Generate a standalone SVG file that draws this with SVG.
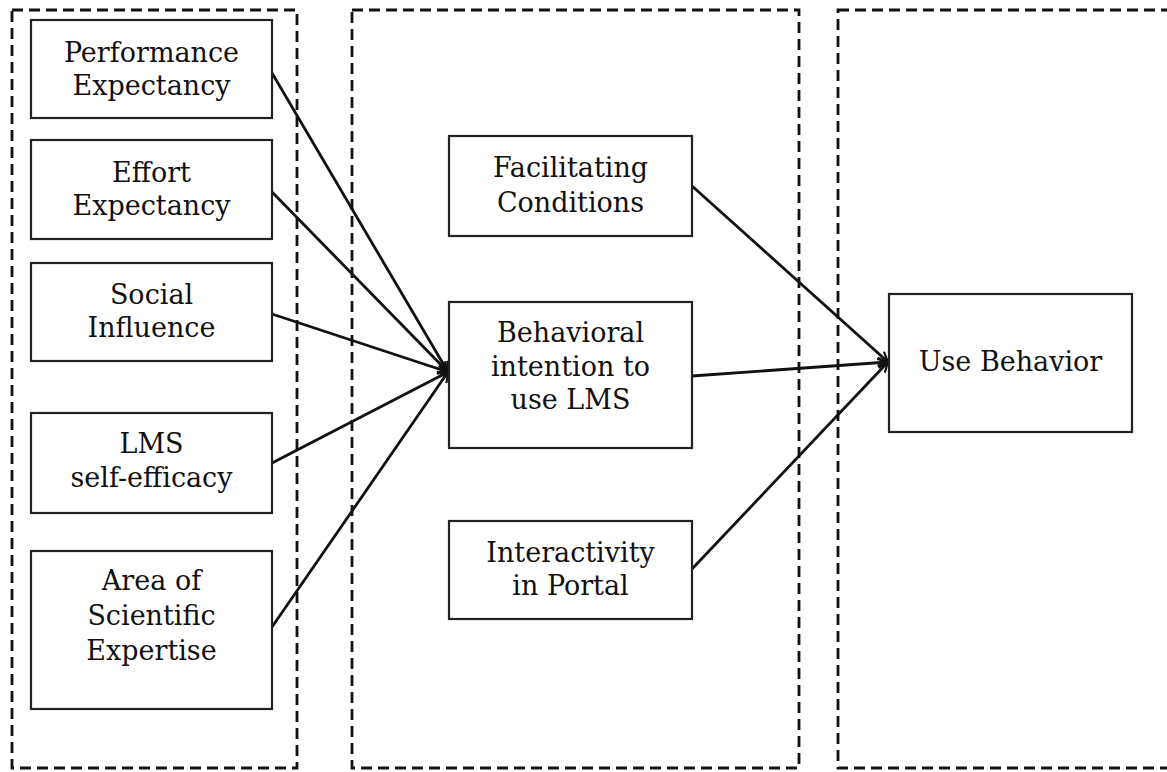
<svg xmlns="http://www.w3.org/2000/svg" width="1167" height="772" viewBox="0 0 1167 772">
<style>
.panel{fill:none;stroke:#111;stroke-width:2.8;stroke-dasharray:11 6}
.box{fill:#fff;stroke:#222;stroke-width:2.2}
.lbl{font-family:"DejaVu Serif","Liberation Serif",serif;font-size:27px;fill:#111;text-anchor:middle}
.edge{fill:none;stroke:#111;stroke-width:2.8}
</style>
<defs>
<marker id="arr" viewBox="0 0 12 12" refX="11" refY="6" markerWidth="12" markerHeight="12" markerUnits="userSpaceOnUse" orient="auto">
<path d="M1,1 L11,6 L1,11" fill="none" stroke="#111" stroke-width="2.2"/>
</marker>
</defs>
<rect width="1167" height="772" fill="#fff"/>
<g id="panels">
<rect class="panel" x="12" y="10" width="285" height="758"/>
<rect class="panel" x="352" y="10" width="447" height="758"/>
<rect class="panel" x="838" y="10" width="340" height="758"/>
</g>
<g id="connectors">
<line class="edge" x1="272" y1="73" x2="448" y2="372" marker-end="url(#arr)"/>
<line class="edge" x1="272" y1="192" x2="448" y2="372" marker-end="url(#arr)"/>
<line class="edge" x1="272" y1="314" x2="448" y2="372" marker-end="url(#arr)"/>
<line class="edge" x1="272" y1="463" x2="448" y2="372" marker-end="url(#arr)"/>
<line class="edge" x1="272" y1="627" x2="448" y2="372" marker-end="url(#arr)"/>
<line class="edge" x1="692" y1="186" x2="888" y2="362" marker-end="url(#arr)"/>
<line class="edge" x1="692" y1="376" x2="888" y2="362" marker-end="url(#arr)"/>
<line class="edge" x1="692" y1="569" x2="888" y2="362" marker-end="url(#arr)"/>
</g>
<g id="pe">
<rect class="box" x="31" y="20" width="241" height="98"/>
<text class="lbl" x="151.5" y="62">Performance</text>
<text class="lbl" x="151.5" y="95">Expectancy</text>
</g>
<g id="ee">
<rect class="box" x="31" y="140" width="241" height="99"/>
<text class="lbl" x="151.5" y="182">Effort</text>
<text class="lbl" x="151.5" y="215">Expectancy</text>
</g>
<g id="si">
<rect class="box" x="31" y="263" width="241" height="98"/>
<text class="lbl" x="151.5" y="304">Social</text>
<text class="lbl" x="151.5" y="337">Influence</text>
</g>
<g id="lms">
<rect class="box" x="31" y="413" width="241" height="100"/>
<text class="lbl" x="151.5" y="453">LMS</text>
<text class="lbl" x="151.5" y="487">self-efficacy</text>
</g>
<g id="area">
<rect class="box" x="31" y="551" width="241" height="158"/>
<text class="lbl" x="151.5" y="590">Area of</text>
<text class="lbl" x="151.5" y="625">Scientific</text>
<text class="lbl" x="151.5" y="660">Expertise</text>
</g>
<g id="fc">
<rect class="box" x="449" y="136" width="243" height="100"/>
<text class="lbl" x="570.5" y="177">Facilitating</text>
<text class="lbl" x="570.5" y="212">Conditions</text>
</g>
<g id="bi">
<rect class="box" x="449" y="302" width="243" height="146"/>
<text class="lbl" x="570.5" y="342">Behavioral</text>
<text class="lbl" x="570.5" y="376">intention to</text>
<text class="lbl" x="570.5" y="409">use LMS</text>
</g>
<g id="ip">
<rect class="box" x="449" y="521" width="243" height="98"/>
<text class="lbl" x="570.5" y="562">Interactivity</text>
<text class="lbl" x="570.5" y="595">in Portal</text>
</g>
<g id="ub">
<rect class="box" x="889" y="294" width="243" height="138"/>
<text class="lbl" x="1010.5" y="371">Use Behavior</text>
</g>
</svg>
